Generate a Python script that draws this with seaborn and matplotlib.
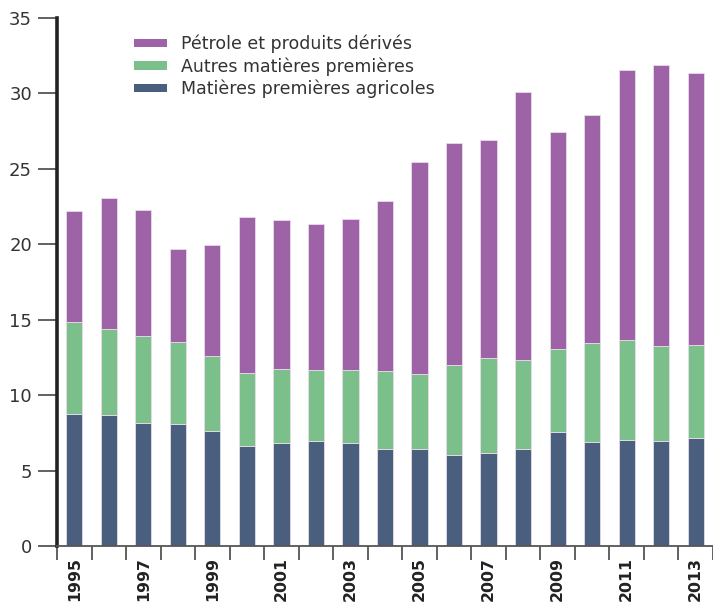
import numpy as np
import pandas as pd
import matplotlib
matplotlib.use("Agg")
import matplotlib.pyplot as plt
import seaborn as sns
from matplotlib.patches import Patch

years = [1995, 1996, 1997, 1998, 1999, 2000, 2001, 2002, 2003, 2004,
         2005, 2006, 2007, 2008, 2009, 2010, 2011, 2012, 2013]
agricoles = [8.75, 8.7, 8.18, 8.11, 7.6, 6.6, 6.83, 6.96, 6.83, 6.45,
             6.41, 6.03, 6.16, 6.45, 7.54, 6.92, 7.03, 6.96, 7.16]
autres = [6.09, 5.68, 5.74, 5.43, 5.01, 4.88, 4.92, 4.70, 4.83, 5.15,
          4.99, 5.94, 6.30, 5.85, 5.49, 6.51, 6.62, 6.31, 6.16]
petrole = [7.38, 8.66, 8.35, 6.12, 7.34, 10.32, 9.85, 9.68, 10.01, 11.26,
           14.03, 14.76, 14.42, 17.77, 14.39, 15.13, 17.89, 18.59, 18.03]

labels = ["Pétrole et produits dérivés", "Autres matières premières",
          "Matières premières agricoles"]
colors = ["#9e63a6", "#7bbf8b", "#4a5f7e"]

df = pd.DataFrame({"year": [str(y) for y in years], "agri": agricoles,
                   "autres": autres, "petrole": petrole})
df["b2"] = df["agri"] + df["autres"]

sns.set_style("white")
plt.rcParams["font.family"] = ["DejaVu Sans"]

fig = plt.figure(figsize=(7.13, 6.03), dpi=100)
ax = fig.add_axes([57/713, 57/603, 656/713, 528/603])

w = 0.47
kw = dict(edgecolor="#e8dcea", linewidth=0.6, width=w, saturation=1)
sns.barplot(data=df, x="year", y="agri", color=colors[2], ax=ax, **kw)
sns.barplot(data=df, x="year", y="autres", bottom=df["agri"], color=colors[1], ax=ax, **kw)
sns.barplot(data=df, x="year", y="petrole", bottom=df["b2"], color=colors[0], ax=ax, **kw)

ax.set_xlim(-0.5, len(years) - 0.5)
ax.set_ylim(0, 35)
ax.set_xlabel("")
ax.set_ylabel("")

ax.set_yticks(np.arange(0, 36, 5))
ax.set_yticklabels([str(v) for v in range(0, 36, 5)], fontsize=13, color="#333333")
ax.tick_params(axis="y", direction="out", length=14, width=1.3, color="#555555", pad=4, left=True)

major = list(range(0, len(years), 2))
ax.set_xticks(major)
ax.set_xticklabels([str(years[i]) for i in major], rotation=90, fontsize=11.3,
                   fontweight="bold", color="#222222")
ax.tick_params(axis="x", which="major", length=0, pad=8, bottom=True)
ax.set_xticks(np.arange(-0.5, len(years), 1), minor=True)
ax.tick_params(axis="x", which="minor", direction="out", length=10, width=1.3,
               color="#555555", bottom=True)

for s in ["top", "right"]:
    ax.spines[s].set_visible(False)
ax.spines["left"].set_color("#222222")
ax.spines["left"].set_linewidth(2.6)
ax.spines["bottom"].set_color("#555555")
ax.spines["bottom"].set_linewidth(1.3)

handles = [Patch(facecolor=c, edgecolor="none") for c in colors]
leg = ax.legend(handles, labels, loc="upper left", bbox_to_anchor=(0.107, 0.981),
                frameon=False, fontsize=12.5, handlelength=1.9, handleheight=0.35,
                handletextpad=0.8, labelspacing=0.22, borderaxespad=0)
for t in leg.get_texts():
    t.set_color("#333333")

fig.savefig("out.png", dpi=100)
